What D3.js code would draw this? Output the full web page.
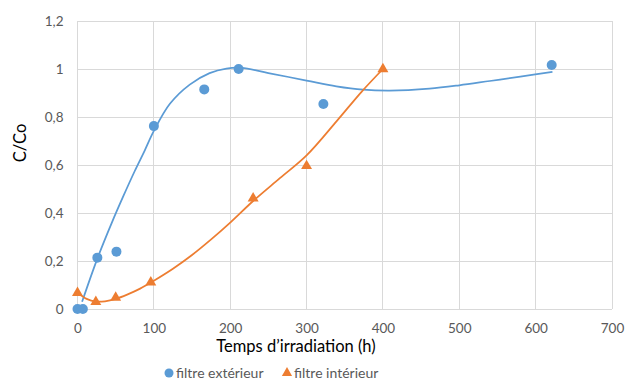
<!DOCTYPE html>
<html><head><meta charset="utf-8">
<script src="https://cdn.jsdelivr.net/npm/d3@7"></script>
<style>body{margin:0;background:#fff}svg{display:block}</style>
</head><body>
<svg id="c" width="627" height="383"></svg>
<script>
// Data
const extTime = [0, 7, 26, 51, 100, 166, 211, 322, 621];
const extValue = [0, 0, 0.214, 0.239, 0.762, 0.915, 1.0, 0.854, 1.017];
const intTime = [0, 24, 50, 96, 230, 300, 400];
const intValue = [0.067, 0.03, 0.048, 0.111, 0.461, 0.596, 1.0];
// Trend curves
const extTrendT = [6, 26, 45, 60, 75, 88, 100, 121, 147, 173, 195, 215, 250, 300, 339, 374, 409, 461, 500, 540, 580, 622];
const extTrendV = [0.03, 0.21, 0.36, 0.47, 0.575, 0.66, 0.742, 0.855, 0.935, 0.983, 1.002, 1.005, 0.983, 0.952, 0.928, 0.914, 0.91, 0.918, 0.932, 0.95, 0.968, 0.988];
const intTrendT = [0, 12, 24, 36, 50, 65, 82, 100, 125, 150, 175, 200, 230, 265, 300, 340, 372, 400];
const intTrendV = [0.067, 0.042, 0.031, 0.032, 0.042, 0.06, 0.085, 0.118, 0.168, 0.225, 0.29, 0.36, 0.45, 0.545, 0.64, 0.785, 0.905, 1.0];
const xTicks = [0, 100, 200, 300, 400, 500, 600, 700];
const yTicks = [0, 0.2, 0.4, 0.6, 0.8, 1, 1.2];
const yTickLabels = ["0", "0,2", "0,4", "0,6", "0,8", "1", "1,2"];
const seriesNames = ["filtre extérieur", "filtre intérieur"];

const blue = "#5B9BD5", orange = "#ED7D31", grid = "#D9D9D9", tickCol = "#595959";
const font = "Lato, 'Open Sans', sans-serif";
const svg = d3.select("#c");
const x = d3.scaleLinear().domain([0, 700]).range([77.5, 612]);
const y = d3.scaleLinear().domain([0, 1.2]).range([309, 21]);

// gridlines
svg.append("g").selectAll("line").data(yTicks).join("line")
  .attr("x1", x(0)).attr("x2", x(700)).attr("y1", d => y(d)).attr("y2", d => y(d))
  .attr("stroke", grid).attr("stroke-width", 1).attr("shape-rendering", "crispEdges");
svg.append("g").selectAll("line").data(xTicks).join("line")
  .attr("y1", y(0)).attr("y2", y(1.2)).attr("x1", d => x(d)).attr("x2", d => x(d))
  .attr("stroke", grid).attr("stroke-width", 1).attr("shape-rendering", "crispEdges");

// axes labels via d3 axes
const xAxis = svg.append("g").attr("transform", `translate(0,${y(0)})`)
  .call(d3.axisBottom(x).tickValues(xTicks).tickSize(0).tickPadding(14).tickFormat(d3.format("d")));
xAxis.select(".domain").remove();
xAxis.selectAll("text").attr("fill", tickCol).style("font-family", font).style("font-size", "13.5px");
const yAxis = svg.append("g").attr("transform", `translate(${x(0)},0)`)
  .call(d3.axisLeft(y).tickValues(yTicks).tickSize(0).tickPadding(14).tickFormat((d, i) => yTickLabels[i]));
yAxis.select(".domain").remove();
yAxis.selectAll("text").attr("fill", tickCol).style("font-family", font).style("font-size", "13.5px");

// trend lines
const line = d3.line().x(d => x(d[0])).y(d => y(d[1])).curve(d3.curveCatmullRom.alpha(0.5));
svg.append("path").datum(extTrendT.map((t, i) => [t, extTrendV[i]]))
  .attr("d", line).attr("fill", "none").attr("stroke", blue).attr("stroke-width", 1.75);
svg.append("path").datum(intTrendT.map((t, i) => [t, intTrendV[i]]))
  .attr("d", line).attr("fill", "none").attr("stroke", orange).attr("stroke-width", 1.75);

// markers
svg.append("g").selectAll("circle").data(extTime.map((t, i) => [t, extValue[i]])).join("circle")
  .attr("cx", d => x(d[0])).attr("cy", d => y(d[1])).attr("r", 5).attr("fill", blue);
const tri = d3.symbol().type(d3.symbolTriangle).size(52);
svg.append("g").selectAll("path").data(intTime.map((t, i) => [t, intValue[i]])).join("path")
  .attr("d", tri).attr("transform", d => `translate(${x(d[0])},${y(d[1])})`).attr("fill", orange);

// axis titles
svg.append("text").attr("x", 296).attr("y", 352).attr("text-anchor", "middle")
  .style("font-family", font).style("font-size", "16.5px").attr("fill", "#000").text("Temps d’irradiation (h)");
svg.append("text").attr("transform", "translate(26,143) rotate(-90)").attr("text-anchor", "middle")
  .style("font-family", font).style("font-size", "16.5px").attr("fill", "#000").text("C/Co");

// legend
const lg = svg.append("g").attr("transform", "translate(0,373)");
lg.append("circle").attr("cx", 169).attr("cy", 0).attr("r", 4.5).attr("fill", blue);
lg.append("text").attr("x", 176).attr("y", 5).style("font-family", font).style("font-size", "14px")
  .attr("fill", tickCol).text(seriesNames[0]);
lg.append("path").attr("d", d3.symbol().type(d3.symbolTriangle).size(45)).attr("transform", "translate(287,0)").attr("fill", orange);
lg.append("text").attr("x", 294).attr("y", 5).style("font-family", font).style("font-size", "14px")
  .attr("fill", tickCol).text(seriesNames[1]);
</script>
</body></html>
